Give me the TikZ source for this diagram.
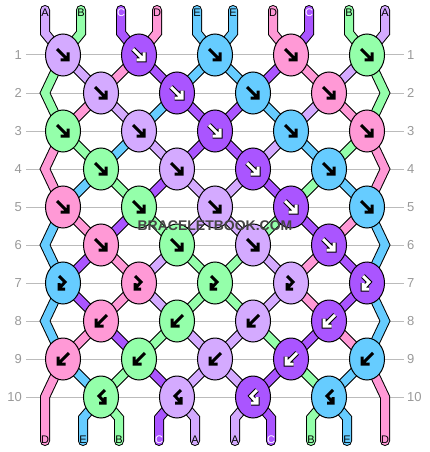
\documentclass[tikz,border=0pt]{standalone}
\usepackage{fontspec}
\setmainfont{Liberation Sans}
\usetikzlibrary{shapes.geometric}
\definecolor{cA}{HTML}{D4AAFF}
\definecolor{cB}{HTML}{94FFAA}
\definecolor{cC}{HTML}{AA55FF}
\definecolor{cD}{HTML}{FF99D6}
\definecolor{cE}{HTML}{66CCFF}
\definecolor{gridgray}{HTML}{BBBBBB}
\definecolor{numgray}{HTML}{999999}
\definecolor{wmgray}{HTML}{444444}
\pgfdeclarelayer{grid}
\pgfdeclarelayer{sout}
\pgfdeclarelayer{sin}
\pgfsetlayers{grid,sout,sin,main}
\tikzset{
  knot/.style={ellipse, draw=black, line width=1pt, minimum width=35pt, minimum height=42pt, inner sep=0pt},
  larr/.style={draw=black, line width=3pt, line join=miter},
  darr/.style={draw=black, line width=1pt, double=white, double distance=3pt, line join=miter},
  strandout/.style={line width=10pt, draw=black, line cap=round, line join=miter},
  strandin/.style={line width=8pt, line cap=round, line join=miter},
  gridline/.style={draw=gridgray, line width=1pt},
  numlab/.style={text=numgray, font=\fontsize{13}{13}\selectfont, inner sep=0pt},
  letter/.style={font=\fontsize{11}{11}\selectfont, inner sep=0pt},
  pics/af/.style={code={\draw[arrsty] (-6,-6) -- (5,5) (-2.5,5) -- (5,5) -- (5,-2.5);}},
  pics/ab/.style={code={\draw[arrsty] (6,-6) -- (-5,5) (2.5,5) -- (-5,5) -- (-5,-2.5);}},
  pics/afb/.style={code={\draw[arrsty] (-4,-7) -- (2,-1) -- (-4,5.5) (-4,0) -- (-4,6) -- (2,6);}},
  pics/abf/.style={code={\draw[arrsty] (4,-7) -- (-2,-1) -- (4,5.5) (4,0) -- (4,6) -- (-2,6);}},
}
\newcommand\strand[2]{%
  \begin{pgfonlayer}{sout}\draw[strandout] #2;\end{pgfonlayer}%
  \begin{pgfonlayer}{sin}\draw[strandin, draw=c#1] #2;\end{pgfonlayer}}
\begin{document}
\begin{tikzpicture}[x=1pt,y=-1pt]
\useasboundingbox (0,0) rectangle (430,452);
% row lines and numbers
\foreach \r in {1,...,10}{
  \pgfmathsetmacro\ky{55+38*(\r-1)}
  \begin{pgfonlayer}{grid}\draw[gridline] (26,\ky) -- (404,\ky);\end{pgfonlayer}
  \node[numlab, anchor=east] (ll-\r) at (22,\ky) {\r};
  \node[numlab, anchor=west] (rl-\r) at (407,\ky) {\r};
}
% knots
\foreach \r/\i/\c/\d in {1/1/A/0,1/2/C/1,1/3/E/0,1/4/D/0,1/5/B/0,
  2/1/A/0,2/2/C/1,2/3/E/0,2/4/D/0,
  3/1/B/0,3/2/A/0,3/3/C/1,3/4/E/0,3/5/D/0,
  4/1/B/0,4/2/A/0,4/3/C/1,4/4/E/0,
  5/1/D/0,5/2/B/0,5/3/A/0,5/4/C/1,5/5/E/0,
  6/1/D/0,6/2/B/0,6/3/A/0,6/4/C/1,
  7/1/E/0,7/2/D/0,7/3/B/0,7/4/A/0,7/5/C/1,
  8/1/D/0,8/2/B/0,8/3/A/0,8/4/C/1,
  9/1/D/0,9/2/B/0,9/3/A/0,9/4/C/1,9/5/E/0,
  10/1/B/0,10/2/A/0,10/3/C/1,10/4/E/0}{
  \pgfmathsetmacro\kx{mod(\r,2)==1 ? 63+76*(\i-1) : 101+76*(\i-1)}
  \pgfmathsetmacro\ky{55+38*(\r-1)}
  \node[knot, fill=c\c] (k-\r-\i) at (\kx,\ky) {};
  \ifnum\d=1 \tikzset{arrsty/.style={darr}}\else\tikzset{arrsty/.style={larr}}\fi
  \ifnum\r<7 \pic at (k-\r-\i) {af};\fi
  \ifnum\r=7 \pic at (k-\r-\i) {afb};\fi
  \ifnum\r=8 \pic at (k-\r-\i) {ab};\fi
  \ifnum\r=9 \pic at (k-\r-\i) {ab};\fi
  \ifnum\r=10 \pic at (k-\r-\i) {abf};\fi
}
% strands after odd rows
\foreach \r/\cols in {1/{A,D,C,E,E,C,D,A},3/{B,E,A,C,C,A,E,B},5/{D,C,B,A,A,B,C,D},7/{C,D,A,B,B,A,D,C},9/{E,B,C,A,A,C,B,E}}{
  \pgfmathtruncatemacro\rn{\r+1}
  \foreach \c [count=\p from 2] in \cols {
    \pgfmathtruncatemacro\ka{ceil(\p/2)}
    \pgfmathtruncatemacro\kb{floor(\p/2)}
    \strand{\c}{(k-\r-\ka.center) -- (k-\rn-\kb.center)}
  }
}
% strands after even rows
\foreach \r/\cols in {2/{D,A,E,C,C,E,A,D},4/{E,B,C,A,A,C,B,E},6/{C,D,A,B,B,A,D,C},8/{D,C,B,A,A,B,C,D}}{
  \pgfmathtruncatemacro\rn{\r+1}
  \foreach \c [count=\p from 2] in \cols {
    \pgfmathtruncatemacro\ka{ceil(\p/2)}
    \pgfmathtruncatemacro\kb{floor(\p/2)}
    \strand{\c}{(k-\r-\kb.center) -- (k-\rn-\ka.center)}
  }
}
% edge strands
\foreach \r/\c in {1/B,3/D,5/E,7/E}{
  \pgfmathtruncatemacro\rnn{\r+2}
  \pgfmathsetmacro\ym{55+38*\r}
  \strand{\c}{(k-\r-1.center) -- (45,\ym) -- (k-\rnn-1.center)}
  \strand{\c}{(k-\r-5.center) -- (385,\ym) -- (k-\rnn-5.center)}
}
% top strands
\foreach \p/\x/\c/\tc in {1/45/A/black,2/81/B/black,3/121/C/white,4/157/D/black,5/197/E/black,6/233/E/black,7/273/D/black,8/309/C/white,9/349/B/black,10/385/A/black}{
  \pgfmathtruncatemacro\ka{ceil(\p/2)}
  \coordinate (top-\p) at (\x,10);
  \strand{\c}{(top-\p) -- (\x,33) -- (k-1-\ka.center)}
  \node[letter, text=\tc] (tl-\p) at (\x,12.5) {\c};
}
% bottom strands
\coordinate (bot-1) at (45,441);
\coordinate (bot-10) at (385,441);
\strand{D}{(k-9-1.center) -- (45,397) -- (bot-1)}
\strand{D}{(k-9-5.center) -- (385,397) -- (bot-10)}
\node[letter] (bl-1) at (45,440) {D};
\node[letter] (bl-10) at (385,440) {D};
\foreach \p/\x/\c/\tc in {2/83/E/black,3/119/B/black,4/159/C/white,5/195/A/black,6/235/A/black,7/271/C/white,8/311/B/black,9/347/E/black}{
  \pgfmathtruncatemacro\kb{floor(\p/2)}
  \coordinate (bot-\p) at (\x,441);
  \strand{\c}{(k-10-\kb.center) -- (\x,418) -- (bot-\p)}
  \node[letter, text=\tc] (bl-\p) at (\x,440) {\c};
}
% watermark
\node[inner sep=0pt, text=wmgray, font=\fontsize{14}{14}\selectfont\bfseries] (wm) at (215,226) {BRACELETBOOK.COM};
\end{tikzpicture}
\end{document}
